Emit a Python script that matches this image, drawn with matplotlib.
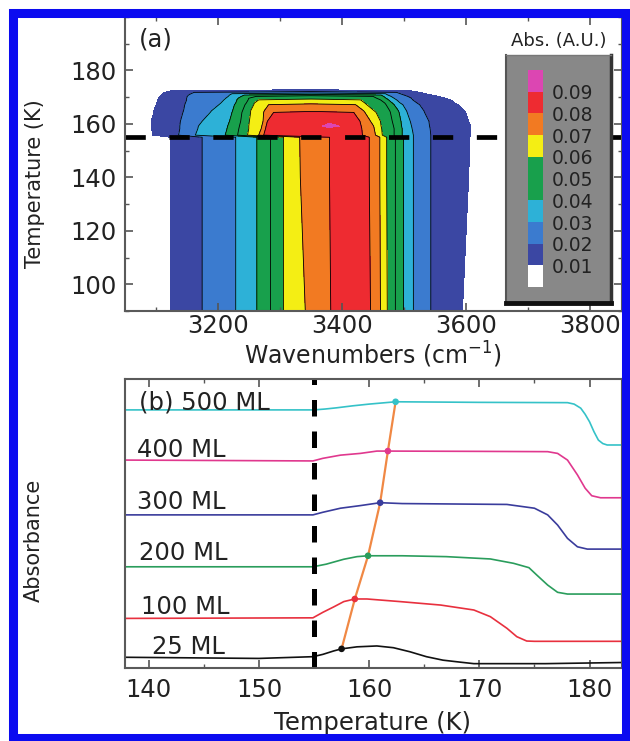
import matplotlib.pyplot as plt
import numpy as np
from matplotlib.patches import Rectangle
from matplotlib.ticker import MultipleLocator

plt.rcParams['font.family'] = ['DejaVu Sans']

abs_levels = [0.01, 0.02, 0.03, 0.04, 0.05, 0.06, 0.07, 0.08, 0.09, 0.11]
abs_colors = ['#3b47a3', '#3b7bcf', '#2db1d7', '#18a04c', '#18a04c',
              '#f4ee14', '#f27a22', '#ee2b31', '#dc46b2']
bar_labels = ['0.01', '0.02', '0.03', '0.04', '0.05', '0.06', '0.07', '0.08', '0.09']

# absorbance carried by each column (left edge -> band centre -> right edge)
col_abs = [0.0, 0.01, 0.02, 0.03, 0.04, 0.05, 0.06, 0.07, 0.08, 0.085, 0.10,
           0.085, 0.08, 0.07, 0.06, 0.05, 0.04, 0.03, 0.02, 0.01, 0.0]
# temperature (K) of each row and the highest absorbance found in that row
row_temp = [90, 140, 155, 155.8, 158.2, 159.2, 161, 164.3, 164.9, 167.2, 167.8,
            169.0, 169.6, 170.3, 170.8, 171.3, 171.8, 172.4, 173.2]
row_max = [0.085, 0.085, 0.085, 0.085, 0.085, 0.096, 0.085, 0.085, 0.075, 0.075, 0.065,
           0.065, 0.055, 0.055, 0.045, 0.035, 0.025, 0.015, 0.005]
# wavenumber (cm-1) of every column in every row
row_wn = [
    [3060, 3124, 3175, 3229, 3263, 3285, 3306, 3341, 3382, 3395, 3410, 3425, 3446, 3462, 3473, 3486, 3499, 3515, 3543, 3594, 3640],
    [3060, 3124, 3175, 3229, 3263, 3285, 3306, 3333, 3380, 3395, 3410, 3425, 3444, 3461, 3472, 3486, 3499, 3515, 3543, 3604, 3640],
    [3060, 3124, 3175, 3229, 3263, 3285, 3306, 3332, 3380, 3395, 3410, 3425, 3444, 3461, 3472, 3486, 3499, 3515, 3543, 3606, 3640],
    [3060, 3095, 3137, 3164, 3212, 3232, 3248, 3266, 3274, 3330, 3377, 3410, 3433, 3454, 3465, 3484, 3497, 3515, 3543, 3607, 3640],
    [3060, 3094, 3139, 3168, 3215, 3234, 3250, 3270, 3277, 3340, 3377, 3410, 3432, 3452, 3464, 3484, 3497, 3513, 3542, 3607, 3640],
    [3060, 3093, 3139, 3169, 3216, 3235, 3250, 3271, 3278, 3357, 3382, 3407, 3431, 3451, 3463, 3483, 3496, 3512, 3541, 3607, 3640],
    [3060, 3093, 3140, 3175, 3219, 3237, 3251, 3273, 3280, 3340, 3377, 3410, 3429, 3446, 3462, 3481, 3495, 3510, 3540, 3604, 3640],
    [3060, 3097, 3144, 3188, 3223, 3239, 3253, 3274, 3290, 3330, 3355, 3385, 3419, 3437, 3455, 3478, 3492, 3505, 3533, 3599, 3640],
    [3060, 3097, 3145, 3190, 3224, 3240, 3253, 3275] + [3350] * 5 + [3435, 3452, 3477, 3491, 3504, 3532, 3597, 3640],
    [3060, 3101, 3147, 3202, 3227, 3244, 3258, 3282] + [3350] * 5 + [3422, 3440, 3471, 3484, 3498, 3525, 3587, 3640],
    [3060, 3102, 3148, 3205, 3229, 3246, 3259] + [3350] * 7 + [3437, 3469, 3481, 3494, 3521, 3582, 3640],
    [3060, 3103, 3150, 3210, 3231, 3249, 3266] + [3350] * 7 + [3430, 3462, 3475, 3488, 3514, 3575, 3640],
    [3060, 3105, 3150, 3213, 3233, 3250] + [3350] * 9 + [3456, 3471, 3484, 3512, 3566, 3640],
    [3060, 3107, 3151, 3217, 3238, 3262] + [3350] * 9 + [3450, 3467, 3479, 3506, 3556, 3640],
    [3060, 3109, 3153, 3219, 3243] + [3350] * 11 + [3463, 3474, 3500, 3545, 3640],
    [3060, 3111, 3157, 3223] + [3350] * 13 + [3470, 3494, 3535, 3640],
    [3060, 3115, 3162] + [3350] * 15 + [3488, 3525, 3640],
    [3060, 3125] + [3350] * 17 + [3510, 3640],
    [3060] + [3350] * 19 + [3640],
]

# ---------------- (b) absorbance vs temperature ----------------
films = ['25 ML', '100 ML', '200 ML', '300 ML', '400 ML', '(b) 500 ML']
film_colors = ['#111111', '#e8303e', '#2a9d5c', '#3a3c9c', '#e0388e', '#35c2c8']

T25 = [137.8, 150.0, 154.9, 155.8, 156.8, 157.5, 158.9, 160.7, 162.2, 163.7, 165.2, 166.7, 168.3, 169.5, 176.0, 183.0]
A25 = [0.37, 0.33, 0.39, 0.47, 0.59, 0.66, 0.73, 0.76, 0.70, 0.56, 0.39, 0.27, 0.20, 0.15, 0.15, 0.19]
T100 = [137.8, 154.9, 155.8, 156.8, 157.7, 158.7, 159.8, 162.8, 166.5, 169.5, 171.0, 172.5, 173.4, 174.3, 175.0, 183.0]
A100 = [1.71, 1.73, 1.92, 2.11, 2.29, 2.38, 2.38, 2.29, 2.17, 2.00, 1.77, 1.37, 1.08, 0.93, 0.92, 0.92]
T200 = [137.8, 154.9, 156.1, 157.7, 158.9, 159.9, 163.0, 167.0, 171.0, 173.1, 174.5, 175.2, 176.2, 177.1, 178.0, 183.0]
A200 = [3.49, 3.49, 3.58, 3.75, 3.84, 3.87, 3.87, 3.84, 3.76, 3.61, 3.46, 3.21, 2.86, 2.61, 2.55, 2.55]
T300 = [137.8, 154.9, 155.8, 157.4, 159.2, 161.0, 163.0, 172.5, 175.0, 176.2, 177.1, 178.0, 178.9, 179.8, 183.0]
A300 = [5.28, 5.28, 5.37, 5.51, 5.60, 5.70, 5.67, 5.64, 5.51, 5.28, 4.93, 4.47, 4.18, 4.10, 4.10]
T400 = [137.8, 154.9, 155.8, 157.4, 159.2, 160.7, 161.7, 170.0, 176.2, 177.1, 178.0, 178.9, 179.6, 180.2, 181.0, 183.0]
A400 = [7.17, 7.14, 7.23, 7.34, 7.40, 7.48, 7.48, 7.47, 7.46, 7.40, 7.17, 6.66, 6.20, 5.94, 5.87, 5.87]
T500 = [137.8, 155.0, 156.0, 157.0, 158.5, 160.0, 161.5, 162.4, 170.0, 178.0, 178.6, 179.2, 179.6, 180.0, 180.4, 180.8, 181.2, 181.6, 183.0]
A500 = [8.90, 8.90, 8.93, 8.97, 9.04, 9.10, 9.15, 9.18, 9.16, 9.15, 9.10, 8.96, 8.75, 8.49, 8.15, 7.86, 7.74, 7.69, 7.69]
curves_T = [T25, T100, T200, T300, T400, T500]
curves_A = [A25, A100, A200, A300, A400, A500]

# crystallisation onset marked on each curve
onset_T = [157.5, 158.7, 159.9, 161.0, 161.7, 162.4]
onset_A = [0.66, 2.38, 3.87, 5.70, 7.48, 9.18]

# ---------------- figure ----------------
W, H = 630, 741
fig = plt.figure(figsize=(W / 100, H / 100), dpi=100)


def px_axes(x0, y0, x1, y1):
    return fig.add_axes([x0 / W, 1 - y1 / H, (x1 - x0) / W, (y1 - y0) / H])


ax1 = px_axes(124.5, 17, 621.5, 311)
ax2 = px_axes(124.5, 379, 621.5, 668)

for ax in (ax1, ax2):
    ax.tick_params(which='both', direction='in', top=True, right=True,
                   labelsize=17.5, color='#555555', labelcolor='#222222')
    ax.tick_params(which='major', length=6, width=1.2)
    ax.tick_params(which='minor', length=3, width=1)
    for s in ax.spines.values():
        s.set_color('#5a5a5a')
        s.set_linewidth(1.5)

# (a)
wn = np.array(row_wn, dtype=float)
temp = np.repeat(np.array(row_temp, dtype=float)[:, None], wn.shape[1], axis=1)
absb = np.minimum(np.array(col_abs)[None, :], np.array(row_max)[:, None])
ax1.contourf(wn, temp, absb, levels=abs_levels, colors=abs_colors)
ax1.contour(wn, temp, absb, levels=abs_levels[1:8], colors='k', linewidths=0.6)
ax1.axhline(155, color='k', lw=3.4, dashes=(4.3, 5))
ax1.set_xlim(3050, 3850)
ax1.set_ylim(90, 200)
ax1.set_yticks([100, 120, 140, 160, 180])
ax1.xaxis.set_major_locator(MultipleLocator(200))
ax1.xaxis.set_minor_locator(MultipleLocator(100))
ax1.yaxis.set_minor_locator(MultipleLocator(10))
ax1.tick_params(axis='x', pad=2)
ax1.tick_params(axis='y', pad=5.5)
ax1.text(0.028, 0.922, '(a)', transform=ax1.transAxes, ha='left', va='center',
         fontsize=17.5, color='#222222')

# colour key box
box = px_axes(506, 55, 611, 303)
box.set_facecolor('#888888')
box.set_xticks([])
box.set_yticks([])
for side, lw, col in [('left', 1.5, '#555555'), ('top', 1.0, '#777777'),
                      ('right', 2.5, '#333333'), ('bottom', 3.5, '#111111')]:
    box.spines[side].set_linewidth(lw)
    box.spines[side].set_color(col)

sw = px_axes(528, 70, 543, 287)
sw.bar(np.zeros(10), np.ones(10), bottom=np.arange(10), width=1,
       color=['white'] + abs_colors, edgecolor='none')
sw.set_xlim(-0.5, 0.5)
sw.set_ylim(0, 10)
sw.axis('off')
for k, lab in enumerate(bar_labels):
    sw.text(1.08, k + 0.9, lab, ha='left', va='center', fontsize=13.5, color='#222222')
fig.text(559 / W, 1 - 41 / H, 'Abs. (A.U.)', ha='center', va='center',
         fontsize=13, color='#222222')

# (b)
for T, A, c in zip(curves_T, curves_A, film_colors):
    ax2.plot(T, A, color=c, lw=1.2)
ax2.plot(onset_T, onset_A, color='#f08844', lw=1.6, zorder=3)
ax2.scatter(onset_T, onset_A, color=film_colors, s=14, zorder=4)
ax2.axvline(155, color='k', lw=3.6, dashes=(3.3, 3.0))
label_pos = [(140.3, 0.73), (139.3, 2.11), (139.1, 3.95), (138.9, 5.73), (138.9, 7.52), (139.1, 9.17)]
for name, (x, y) in zip(films, label_pos):
    ax2.text(x, y, name, ha='left', va='center', fontsize=17.5, color='#222222')
ax2.set_xlim(137.8, 182.9)
ax2.set_ylim(0, (668 - 379) / 29)
ax2.set_yticks([])
ax2.xaxis.set_major_locator(MultipleLocator(10))
ax2.xaxis.set_minor_locator(MultipleLocator(5))
ax2.tick_params(axis='x', pad=7)

# axis titles
fig.text(373 / W, 1 - 355 / H, 'Wavenumbers (cm$^{-1}$)', ha='center', va='center',
         fontsize=17, color='#222222')
fig.text(373 / W, 1 - 723 / H, 'Temperature (K)', ha='center', va='center',
         fontsize=17.5, color='#222222')
fig.text(35 / W, 1 - 183.5 / H, 'Temperature (K)', rotation=90, ha='center', va='center',
         fontsize=15, color='#222222')
fig.text(34 / W, 1 - 540 / H, 'Absorbance', rotation=90, ha='center', va='center',
         fontsize=15, color='#222222')

# blue frame
fig.add_artist(Rectangle((13 / W, 1 - 738 / H), (626 - 13) / W, (738 - 13) / H,
                         transform=fig.transFigure, fill=False, ec='#0b0bf0', lw=6.5, zorder=10))

fig.savefig('out.png', dpi=100)
